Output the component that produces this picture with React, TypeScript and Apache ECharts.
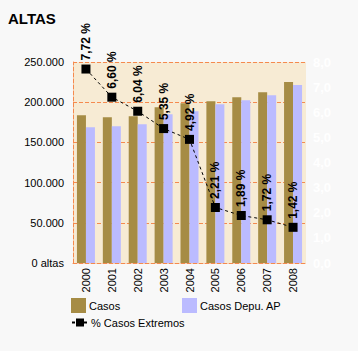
import React, { useEffect, useRef } from "react";
import * as echarts from "echarts";

const years = ["2000", "2001", "2002", "2003", "2004", "2005", "2006", "2007", "2008"];
const casos = [183750, 181250, 182500, 193750, 198750, 201250, 206250, 212500, 225000];
const casosDepu = [168750, 170000, 172500, 185000, 188750, 197500, 202500, 208750, 221250];
const pctExtremos = [7.72, 6.6, 6.04, 5.35, 4.92, 2.21, 1.89, 1.72, 1.42];

const FONT = "'Liberation Sans', Arial, sans-serif";
const ORANGE = "#F58A4E";

export default function App() {
  const ref = useRef<HTMLDivElement>(null);
  useEffect(() => {
    document.body.style.margin = "0";
    const chart = echarts.init(ref.current!, null, { renderer: "svg" });
    chart.setOption({
      animation: false,
      backgroundColor: "#F8F8F8",
      textStyle: { fontFamily: FONT },
      title: {
        text: "ALTAS",
        left: 3,
        top: 6,
        textStyle: { fontFamily: FONT, fontSize: 15, fontWeight: "bold", color: "#000" },
      },
      grid: {
        left: 73,
        right: 52,
        top: 62,
        bottom: 88,
        show: true,
        backgroundColor: "#F7EBD4",
        borderWidth: 0,
      },
      legend: [
        {
          left: 66,
          top: 293,
          itemWidth: 15,
          itemHeight: 15,
          itemGap: 4,
          data: [{ name: "Casos", icon: "rect" }],
          textStyle: { fontFamily: FONT, fontSize: 11, color: "#000", padding: [0, 0, 0, -2] },
        },
        {
          left: 177,
          top: 293,
          itemWidth: 15,
          itemHeight: 15,
          data: [{ name: "Casos Depu. AP", icon: "rect" }],
          textStyle: { fontFamily: FONT, fontSize: 11, color: "#000", padding: [0, 0, 0, -2] },
        },
        {
          left: 66,
          top: 312,
          itemWidth: 16,
          itemHeight: 10,
          data: [{ name: "% Casos Extremos" }],
          textStyle: { fontFamily: FONT, fontSize: 11, color: "#000", padding: [0, 0, 0, -2] },
        },
      ],
      xAxis: {
        type: "category",
        data: years,
        axisLine: { show: true, lineStyle: { color: ORANGE, type: "dashed", width: 1 } },
        axisTick: { show: false },
        axisLabel: {
          rotate: 90,
          fontFamily: FONT,
          fontSize: 11,
          color: "#000",
          margin: 5,
        },
      },
      yAxis: [
        {
          type: "value",
          min: 0,
          max: 250000,
          interval: 50000,
          axisLine: { show: true, lineStyle: { color: ORANGE, type: "dashed", width: 1 } },
          axisTick: { show: false },
          splitLine: { show: true, lineStyle: { color: ORANGE, type: "dashed", width: 1 } },
          axisLabel: {
            fontFamily: FONT,
            fontSize: 11,
            color: "#000",
            margin: 9,
            formatter: (v: number) =>
              v === 0 ? "0 altas" : String(v).replace(/\B(?=(\d{3})+(?!\d))/g, "."),
          },
        },
        {
          type: "value",
          min: 0,
          max: 8,
          interval: 1,
          position: "right",
          axisLine: { show: false },
          axisTick: { show: false },
          splitLine: { show: false },
          axisLabel: {
            fontFamily: FONT,
            fontSize: 13,
            fontWeight: "bold",
            color: "#FFFFFF",
            margin: 7,
            formatter: (v: number) => v.toFixed(1).replace(".", ","),
          },
        },
      ],
      series: [
        {
          name: "Casos",
          type: "bar",
          data: casos,
          barWidth: 9,
          barGap: "0%",
          itemStyle: { color: "#A68C45" },
        },
        {
          name: "Casos Depu. AP",
          type: "bar",
          data: casosDepu,
          barWidth: 9,
          barGap: "0%",
          itemStyle: { color: "#BBBBFF" },
        },
        {
          name: "% Casos Extremos",
          type: "line",
          yAxisIndex: 1,
          data: pctExtremos,
          symbol: "rect",
          symbolSize: 9,
          itemStyle: { color: "#000" },
          lineStyle: { color: "#000", width: 1, type: [3, 3] },
          label: {
            show: true,
            position: "top",
            distance: 4,
            rotate: 90,
            align: "left",
            verticalAlign: "middle",
            fontFamily: FONT,
            fontSize: 12,
            fontWeight: "bold",
            color: "#000",
            formatter: (p: any) => p.value.toFixed(2).replace(".", ",") + " %",
          },
        },
      ],
    });
    return () => chart.dispose();
  }, []);
  return <div ref={ref} style={{ width: 358, height: 351 }} />;
}
